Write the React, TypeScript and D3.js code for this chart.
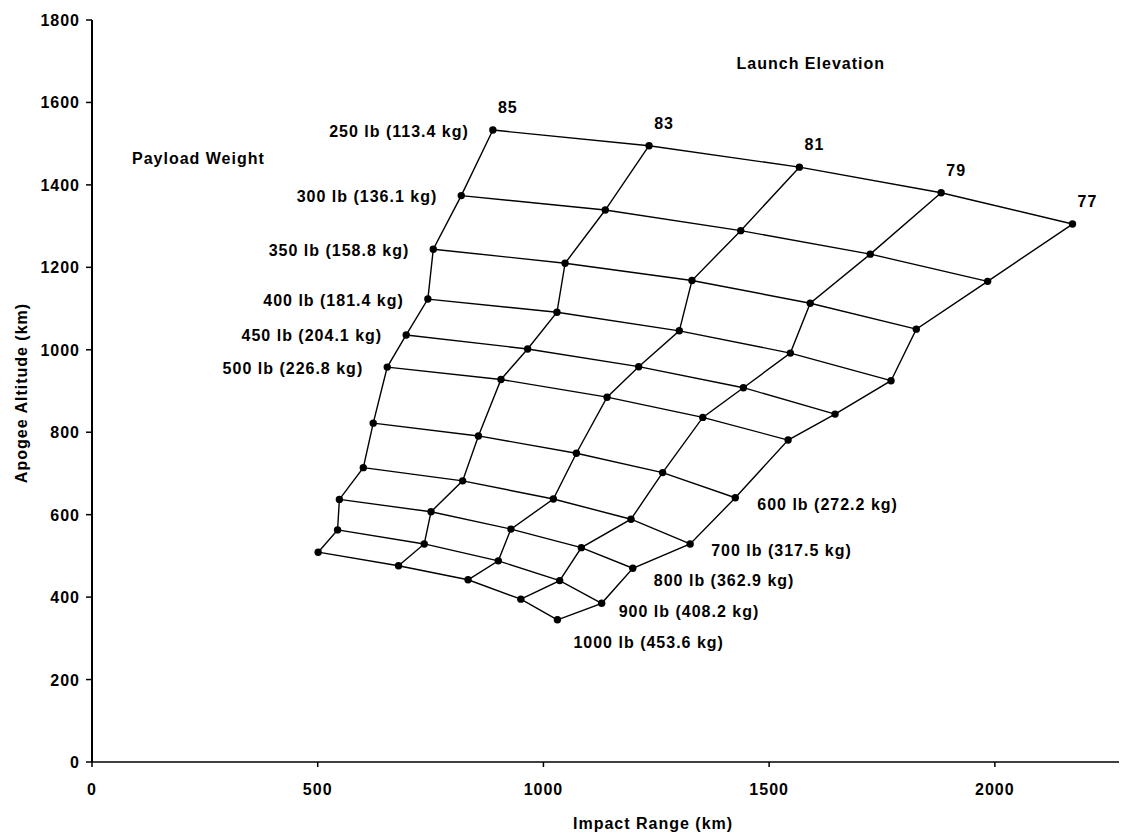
import React from "react";
import * as d3 from "d3";

// ---------- data ----------
const payloadLabels = [
  "250 lb (113.4 kg)",
  "300 lb (136.1 kg)",
  "350 lb (158.8 kg)",
  "400 lb (181.4 kg)",
  "450 lb (204.1 kg)",
  "500 lb (226.8 kg)",
  "600 lb (272.2 kg)",
  "700 lb (317.5 kg)",
  "800 lb (362.9 kg)",
  "900 lb (408.2 kg)",
  "1000 lb (453.6 kg)",
];
const elevations = [85, 83, 81, 79, 77];

// impact range (km) and apogee altitude (km) per launch elevation, ordered by payload
const range85 = [888, 818, 756, 744, 696, 654, 623, 601, 548, 544, 501];
const alt85 = [1533, 1374, 1244, 1123, 1036, 958, 822, 714, 637, 563, 509];
const range83 = [1234, 1137, 1048, 1030, 965, 906, 856, 821, 751, 736, 679];
const alt83 = [1495, 1339, 1210, 1091, 1002, 928, 791, 682, 607, 529, 476];
const range81 = [1567, 1437, 1329, 1301, 1211, 1141, 1073, 1022, 928, 900, 833];
const alt81 = [1443, 1289, 1168, 1046, 959, 885, 749, 638, 565, 488, 442];
const range79 = [1881, 1724, 1591, 1547, 1443, 1353, 1264, 1194, 1084, 1036, 950];
const alt79 = [1381, 1232, 1113, 992, 908, 836, 702, 589, 520, 440, 395];
const range77 = [2172, 1984, 1826, 1770, 1646, 1542, 1425, 1325, 1198, 1129, 1031];
const alt77 = [1305, 1166, 1050, 925, 844, 781, 641, 529, 470, 385, 345];

const xTicks = [0, 500, 1000, 1500, 2000];
const yTicks = [0, 200, 400, 600, 800, 1000, 1200, 1400, 1600, 1800];

// ---------- layout ----------
const W = 1123;
const H = 832;
const X0 = 92;
const X1 = 1119;
const Y0 = 762;
const Y1 = 20;
const leftLabelCount = 6;
const rightLabelOffsets: [number, number][] = [
  [22, 12],
  [21, 12],
  [21, 18],
  [17, 14],
  [16, 28],
];

const font = {
  fontFamily: "'Liberation Sans', Arial, Helvetica, sans-serif",
  fontWeight: 700 as const,
  fontSize: 16,
  letterSpacing: 1,
  fill: "#000",
};

export default function App() {
  const x = d3.scaleLinear().domain([0, 2275]).range([X0, X1]);
  const y = d3.scaleLinear().domain([0, 1800]).range([Y0, Y1]);

  const ranges = [range85, range83, range81, range79, range77];
  const alts = [alt85, alt83, alt81, alt79, alt77];

  const line = d3
    .line<[number, number]>()
    .x((d) => x(d[0]))
    .y((d) => y(d[1]));

  // elevation lines (columns)
  const colPaths = elevations.map((_, c) =>
    line(ranges[c].map((r, i) => [r, alts[c][i]] as [number, number]))
  );
  // payload lines (rows)
  const rowPaths = payloadLabels.map((_, i) =>
    line(elevations.map((_, c) => [ranges[c][i], alts[c][i]] as [number, number]))
  );

  const points: { px: number; py: number; key: string }[] = [];
  elevations.forEach((_, c) =>
    payloadLabels.forEach((_, i) =>
      points.push({ px: x(ranges[c][i]), py: y(alts[c][i]), key: `${c}-${i}` })
    )
  );

  const first = 0;
  const last = elevations.length - 1;

  return (
    <svg
      width={W}
      height={H}
      style={{ position: "absolute", left: 0, top: 0, background: "#fff" }}
    >
      <rect x={0} y={0} width={W} height={H} fill="#fff" />
      {/* axes */}
      <line x1={X0} y1={Y1} x2={X0} y2={Y0} stroke="#000" strokeWidth={2} />
      <line x1={X0} y1={Y0} x2={X1} y2={Y0} stroke="#000" strokeWidth={1.6} />
      {yTicks.map((t) => (
        <g key={`yt${t}`}>
          <line x1={X0 - 6} x2={X0} y1={y(t)} y2={y(t)} stroke="#000" strokeWidth={1.5} />
          <text x={X0 - 12} y={y(t) + 6} textAnchor="end" {...font}>
            {t}
          </text>
        </g>
      ))}
      {xTicks.map((t) => (
        <g key={`xt${t}`}>
          <line x1={x(t)} x2={x(t)} y1={Y0} y2={Y0 + 5} stroke="#000" strokeWidth={1.5} />
          <text x={x(t)} y={Y0 + 33} textAnchor="middle" {...font}>
            {t}
          </text>
        </g>
      ))}
      <text x={573} y={829} textAnchor="start" {...font}>
        Impact Range (km)
      </text>
      <text transform={`translate(27,393) rotate(-90)`} textAnchor="middle" {...font}>
        Apogee Altitude (km)
      </text>

      {/* grid */}
      {rowPaths.map((d, i) => (
        <path key={`r${i}`} d={d || ""} fill="none" stroke="#000" strokeWidth={1.4} />
      ))}
      {colPaths.map((d, i) => (
        <path key={`c${i}`} d={d || ""} fill="none" stroke="#000" strokeWidth={1.4} />
      ))}
      {points.map((p) => (
        <circle key={p.key} cx={p.px} cy={p.py} r={3.7} fill="#000" />
      ))}

      {/* elevation labels */}
      {elevations.map((e, c) => (
        <text
          key={`e${e}`}
          x={x(ranges[c][0]) + 15}
          y={y(alts[c][0]) - 17}
          textAnchor="middle"
          {...font}
        >
          {e}
        </text>
      ))}

      {/* payload labels */}
      {payloadLabels.map((lab, i) =>
        i < leftLabelCount ? (
          <text
            key={`pl${i}`}
            x={x(ranges[first][i]) - 24}
            y={y(alts[first][i]) + 6.5}
            textAnchor="end"
            {...font}
          >
            {lab}
          </text>
        ) : (
          <text
            key={`pl${i}`}
            x={x(ranges[last][i]) + rightLabelOffsets[i - leftLabelCount][0]}
            y={y(alts[last][i]) + rightLabelOffsets[i - leftLabelCount][1]}
            textAnchor="start"
            {...font}
          >
            {lab}
          </text>
        )
      )}

      <text x={885} y={69} textAnchor="end" {...font}>
        Launch Elevation
      </text>
      <text x={132} y={164} textAnchor="start" {...font}>
        Payload Weight
      </text>
    </svg>
  );
}
